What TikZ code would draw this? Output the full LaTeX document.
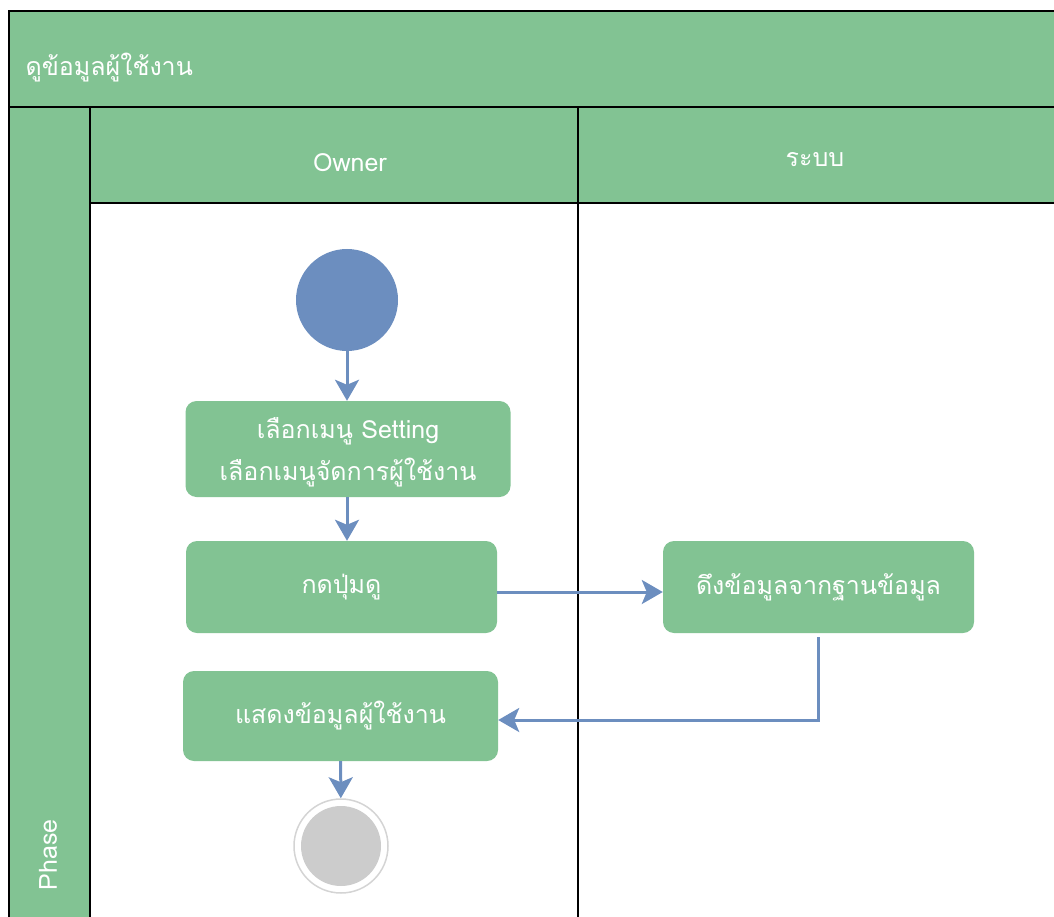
\documentclass[tikz,border=0pt]{standalone}
\usepackage{fontspec}
\newfontfamily\thaifont[Script=Thai]{Loma}
\usetikzlibrary{arrows.meta}
\definecolor{lanegreen}{HTML}{82C393}
\definecolor{flowblue}{HTML}{6C8EBF}
\definecolor{endgray}{HTML}{CCCCCC}
\definecolor{ringgray}{HTML}{D4D4D4}

\begin{document}
\begin{tikzpicture}[x=1pt,y=-1pt,
    every node/.style={font=\thaifont\fontsize{25}{42}\selectfont},
    lane/.style={draw=black,line width=1.6pt,fill=lanegreen},
    act/.style={rectangle,rounded corners=11pt,fill=lanegreen,text=white,align=center},
    flow/.style={draw=flowblue,line width=3pt,-{Stealth[length=21pt,width=24pt,inset=5pt]}}]
  \useasboundingbox (0,0) rectangle (1054,917);
  \clip (0,0) rectangle (1054,917);

  \draw[lane] (9,11) rectangle (1080,107);
  \draw[lane] (9,107) rectangle (90,940);
  \draw[lane] (90,107) rectangle (578,203);
  \draw[lane] (578,107) rectangle (1080,203);
  \draw[line width=1.6pt] (90,203) rectangle (578,940);
  \draw[line width=1.6pt] (578,203) rectangle (1080,940);

  \node (title) [right,text=white] at (22,68) {ดูข้อมูลผู้ใช้งาน};
  \node (owner) [text=white] at (350,163) {Owner};
  \node (sys) [text=white] at (815,160) {ระบบ};
  \node (phase) [text=white,rotate=90] at (48,855) {Phase};

  \node (start) [circle,fill=flowblue,minimum size=102pt] at (347,300) {};
  \node (selmenu) [act,minimum width=325pt,minimum height=96pt,
    inner ysep=0pt,text depth=-6pt] at (348,449)
    {เลือกเมนู Setting\\เลือกเมนูจัดการผู้ใช้งาน};
  \node (press) [act,minimum width=311pt,minimum height=92pt] at (341.5,587) {กดปุ่มดู};
  \node (fetch) [act,minimum width=311pt,minimum height=92pt] at (818.5,587)
    {ดึงข้อมูลจากฐานข้อมูล};
  \node (show) [act,minimum width=315pt,minimum height=90pt] at (340.5,716)
    {แสดงข้อมูลผู้ใช้งาน};
  \node (finish) [circle,draw=ringgray,line width=1.5pt,fill=white,minimum size=94pt]
    at (341,846) {};
  \fill[endgray] (finish.center) circle (40pt);

  \draw[flow] (start) -- (start |- selmenu.north);
  \draw[flow] (start |- selmenu.south) -- (start |- press.north);
  \draw[flow] ([yshift=-5pt]press.east) -- ([yshift=-5pt]fetch.west);
  \draw[flow] ([yshift=-4pt]fetch.south) |- ([yshift=-4pt]show.east);
  \draw[flow] (show) -- (finish);
\end{tikzpicture}
\end{document}
